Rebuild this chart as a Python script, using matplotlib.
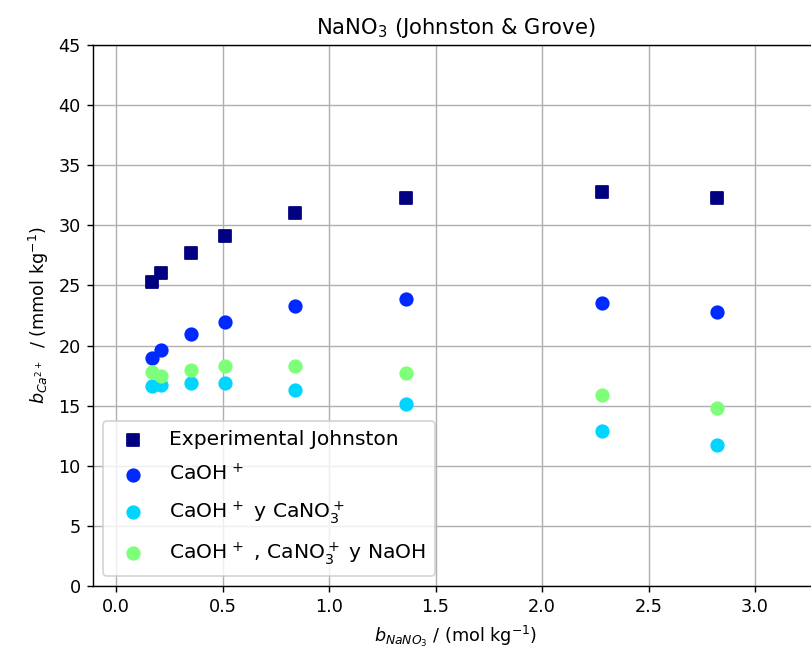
import matplotlib.pyplot as plt

b_nano3 = [0.17, 0.21, 0.35, 0.51, 0.84, 1.36, 2.28, 2.82]
exp_johnston = [25.3, 26.0, 27.7, 29.1, 31.0, 32.3, 32.8, 32.3]
caoh = [19.0, 19.6, 21.0, 22.0, 23.3, 23.9, 23.5, 22.8]
caoh_cano3 = [16.6, 16.7, 16.9, 16.9, 16.3, 15.1, 12.9, 11.7]
caoh_cano3_naoh = [17.8, 17.5, 18.0, 18.3, 18.3, 17.7, 15.9, 14.8]

dpi = 127
fig = plt.figure(figsize=(811 / dpi, 657 / dpi), dpi=dpi)
# axes runs past the right edge like in the cropped original
ax = fig.add_axes([93 / 811, 1 - 586 / 657, (3.3 + 0.108) * 213 / 811, (586 - 45) / 657])

cmap = plt.cm.jet
ax.scatter(b_nano3, exp_johnston, marker="s", s=50, color=cmap(0.0), label="Experimental Johnston", zorder=3)
ax.scatter(b_nano3, caoh, marker="o", s=50, color=cmap(1 / 6), label=r"CaOH$^{\,+}$", zorder=3)
ax.scatter(b_nano3, caoh_cano3, marker="o", s=50, color=cmap(2 / 6),
           label=r"CaOH$^{\,+}$ y CaNO$_3^+$", zorder=3)
ax.scatter(b_nano3, caoh_cano3_naoh, marker="o", s=50, color=cmap(3 / 6),
           label=r"CaOH$^{\,+}$ , CaNO$_3^+$ y NaOH", zorder=3)

ax.set_xlim(-0.108, 3.3)
ax.set_ylim(0, 45)
ax.set_xticks([0.0, 0.5, 1.0, 1.5, 2.0, 2.5, 3.0])
ax.spines["right"].set_visible(False)
ax.grid(True)
ax.set_title(r"NaNO$_3$ (Johnston & Grove)", fontsize=12)
ax.set_xlabel(r"$b_{NaNO_3}$ / (mol kg$^{-1}$)")
ax.set_ylabel(r"$b_{Ca^{2+}}$  / (mmol kg$^{-1}$)")
ax.legend(loc="lower left", fontsize=11.5, labelspacing=0.7, handletextpad=0.8, borderpad=0.45)

fig.savefig("out.png", dpi=dpi)
